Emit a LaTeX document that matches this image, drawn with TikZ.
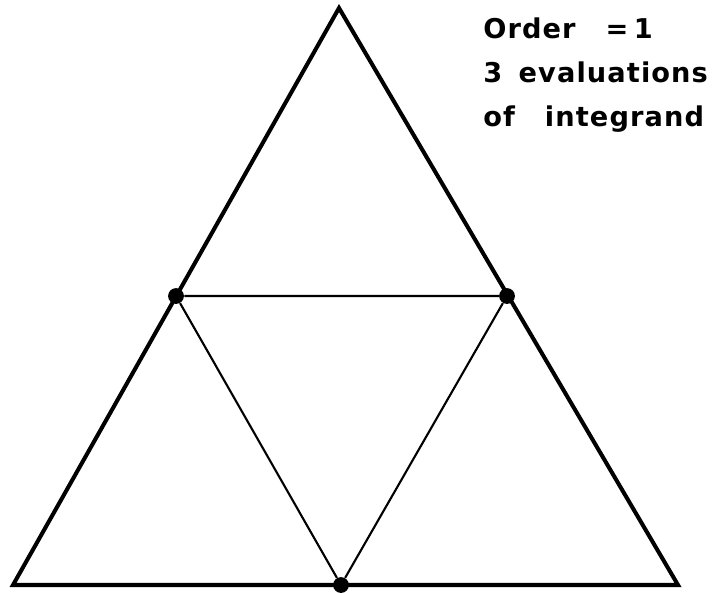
\documentclass[tikz,border=0pt]{standalone}
\usepackage{fontspec}
\setmainfont{DejaVu Sans}
\usepackage{tikz}
\usetikzlibrary{positioning}

\tikzset{
 outer/.style={line width=2.3pt,line join=miter},
 inner/.style={line width=1.2pt},
 pt/.style={circle,fill,inner sep=0pt,minimum size=9pt},
 lbl/.style={anchor=base west,inner sep=0pt,font=\bfseries\fontsize{15.5}{18}\selectfont\addfontfeature{LetterSpace=4}}
}

\begin{document}
\begin{tikzpicture}[x=0.02cm,y=-0.02cm]
\useasboundingbox (0,0) rectangle (712,592);
% corners of the big triangle
\coordinate (top) at (339,8);
\coordinate (bl) at (13,585);
\coordinate (br) at (678,585);
\draw[outer] (top)--(bl)--(br)--cycle;
% edge midpoints (integration points)
\node[pt] (ml) at (176,296) {};
\node[pt] (mr) at (507,296) {};
\node[pt] (mb) at (341,585) {};
\draw[inner] (ml)--(mr)--(mb)--(ml);
% caption
\node[lbl] (ord) at (483,38) {Order\hspace{1.1em}=\hspace{0.2em}1};
\node[lbl] (ev) at (483,82) {3\hspace{0.6em}evaluations};
\node[lbl] (ig) at (483,126) {of\hspace{1.1em}integrand};
\end{tikzpicture}
\end{document}
